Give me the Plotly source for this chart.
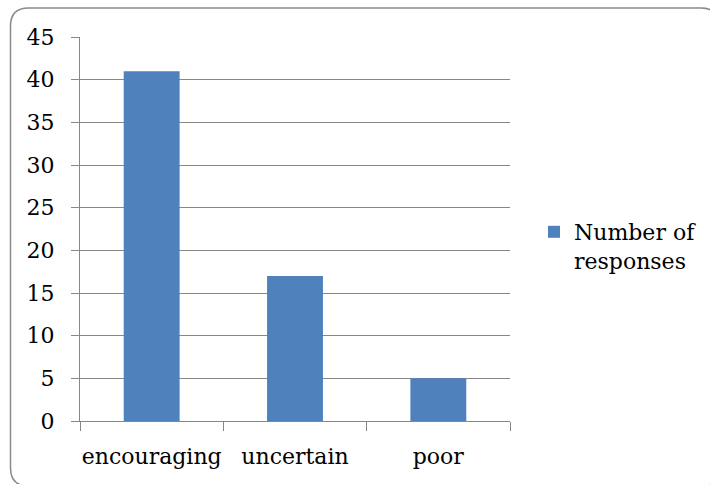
import plotly.graph_objects as go

categories = ["encouraging", "uncertain", "poor"]
responses = [41, 17, 5]
series_name = "Number of<br>responses"
y_ticks = [0, 5, 10, 15, 20, 25, 30, 35, 40, 45]

FONT = "DejaVu Serif"
GRID = "#878787"
FS = 22

fig = go.Figure()
fig.add_trace(go.Bar(
    x=categories, y=responses, name=series_name,
    marker=dict(color="#4F81BD", line=dict(width=0)),
    showlegend=True,
))

W, H = 710, 484
L, R, T, B = 80, 200, 37, 63
pw, ph = W - L - R, H - T - B

def px(x):
    return (x - L) / pw

def py(y):
    return (H - B - y) / ph

# rounded outer border (pixel coords converted to paper coords)
x0, x1, y0, y1, r = 10.5, 719, 8, 486, 18
path = (
    f"M {px(x0+r)},{py(y0)} L {px(x1-r)},{py(y0)} "
    f"Q {px(x1)},{py(y0)} {px(x1)},{py(y0+r)} "
    f"L {px(x1)},{py(y1-r)} Q {px(x1)},{py(y1)} {px(x1-r)},{py(y1)} "
    f"L {px(x0+r)},{py(y1)} Q {px(x0)},{py(y1)} {px(x0)},{py(y1-r)} "
    f"L {px(x0)},{py(y0+r)} Q {px(x0)},{py(y0)} {px(x0+r)},{py(y0)} Z"
)

fig.update_layout(
    width=W, height=H,
    margin=dict(l=L, r=R, t=T, b=B, pad=0, autoexpand=False),
    paper_bgcolor="white", plot_bgcolor="white",
    font=dict(family=FONT, size=FS, color="black"),
    bargap=0.61,
    shapes=[dict(type="path", path=path, xref="paper", yref="paper",
                 line=dict(color="#8a8a8a", width=1.5), layer="above")],
    legend=dict(x=px(534), y=py(211), xanchor="left", yanchor="top",
                valign="top", font=dict(family=FONT, size=FS),
                itemwidth=30, bgcolor="rgba(0,0,0,0)", tracegroupgap=0),
    xaxis=dict(
        showline=True, linecolor=GRID, linewidth=1,
        ticks="outside", ticklen=9, tickcolor=GRID, tickwidth=1,
        tickson="boundaries", showgrid=False, tickangle=0,
        automargin=False,
        tickfont=dict(family=FONT, size=FS),
        ticklabelstandoff=16,
    ),
    yaxis=dict(
        range=[0, 45], tickvals=y_ticks,
        showline=True, linecolor=GRID, linewidth=1,
        ticks="outside", ticklen=8, tickcolor=GRID, tickwidth=1,
        showgrid=True, gridcolor=GRID, gridwidth=1,
        zeroline=False, automargin=False,
        tickfont=dict(family=FONT, size=FS),
        ticklabelstandoff=12,
    ),
)

fig.write_html("out.html", config={"displayModeBar": False},
               post_script="document.body.style.margin='0';")
